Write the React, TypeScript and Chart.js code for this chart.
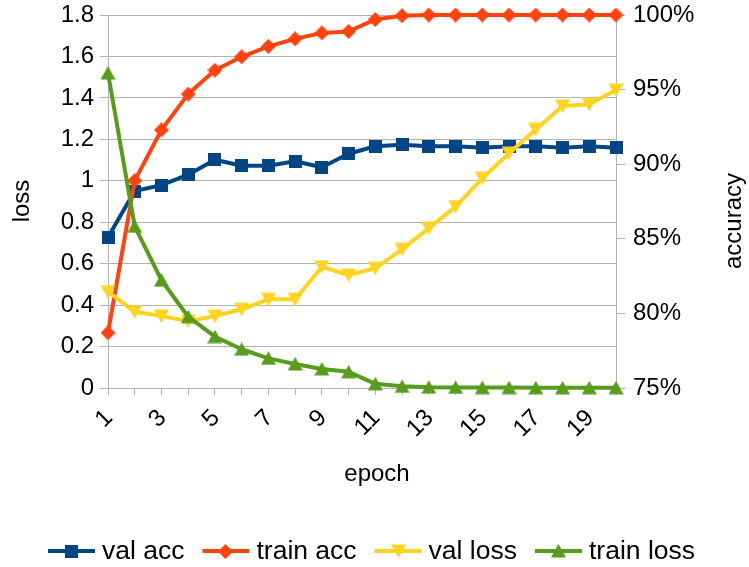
import React, { useEffect, useRef } from "react";
import { Chart, registerables } from "chart.js";

Chart.register(...registerables);

// Epoch categories along the x axis
const epochs = ["1", "2", "3", "4", "5", "6", "7", "8", "9", "10", "11", "12", "13", "14", "15", "16", "17", "18", "19", "20"];

// Accuracy series (percent, right axis)
const valAcc = [85.1, 88.2, 88.6, 89.3, 90.3, 89.9, 89.9, 90.2, 89.8, 90.7, 91.2, 91.3, 91.2, 91.2, 91.1, 91.2, 91.2, 91.1, 91.2, 91.1];
const trainAcc = [78.7, 88.9, 92.3, 94.7, 96.3, 97.2, 97.9, 98.4, 98.8, 98.9, 99.7, 99.95, 100, 100, 100, 100, 100, 100, 100, 100];

// Loss series (left axis)
const valLoss = [0.465, 0.368, 0.347, 0.323, 0.347, 0.38, 0.428, 0.428, 0.585, 0.545, 0.578, 0.669, 0.771, 0.875, 1.012, 1.133, 1.248, 1.361, 1.369, 1.438];
const trainLoss = [1.52, 0.78, 0.52, 0.344, 0.248, 0.187, 0.143, 0.116, 0.092, 0.078, 0.02, 0.008, 0.004, 0.003, 0.002, 0.002, 0.001, 0.001, 0.001, 0.001];

// Axis ranges
const lossMin = 0;
const lossMax = 1.8;
const lossStep = 0.2;
const accMin = 75;
const accMax = 100;
const accStep = 5;

const seriesNames = ["val acc", "train acc", "val loss", "train loss"];
const seriesColors = ["#004586", "#ff420e", "#ffd320", "#579d1c"];

const FONT = '"Liberation Sans", Arial, sans-serif';
const GRID = "#b3b3b3";

type Shape = "square" | "diamond" | "triDown" | "triUp";
const seriesShapes: Shape[] = ["square", "diamond", "triDown", "triUp"];

function makeMarker(shape: Shape, color: string): HTMLCanvasElement {
  const c = document.createElement("canvas");
  const ctx = c.getContext("2d")!;
  if (shape === "square") {
    c.width = 13; c.height = 13;
    ctx.fillStyle = color;
    ctx.fillRect(0, 0, 13, 13);
  } else if (shape === "diamond") {
    c.width = 15; c.height = 15;
    ctx.fillStyle = color;
    ctx.beginPath();
    ctx.moveTo(7.5, 0); ctx.lineTo(15, 7.5); ctx.lineTo(7.5, 15); ctx.lineTo(0, 7.5);
    ctx.closePath(); ctx.fill();
  } else if (shape === "triDown") {
    c.width = 15; c.height = 14;
    ctx.fillStyle = color;
    ctx.beginPath();
    ctx.moveTo(0, 0.5); ctx.lineTo(15, 0.5); ctx.lineTo(7.5, 14);
    ctx.closePath(); ctx.fill();
  } else {
    c.width = 15; c.height = 14;
    ctx.fillStyle = color;
    ctx.beginPath();
    ctx.moveTo(7.5, 0); ctx.lineTo(15, 13.5); ctx.lineTo(0, 13.5);
    ctx.closePath(); ctx.fill();
  }
  return c;
}

// Axis titles and the line-with-marker legend at the bottom
const decorPlugin = {
  id: "decor",
  afterDraw(chart: any) {
    const ctx = chart.ctx as CanvasRenderingContext2D;
    ctx.save();
    ctx.fillStyle = "#000";
    ctx.font = `24px ${FONT}`;
    ctx.textAlign = "center";
    ctx.textBaseline = "middle";

    ctx.save();
    ctx.translate(22, 201);
    ctx.rotate(-Math.PI / 2);
    ctx.fillText("loss", 0, 0);
    ctx.restore();

    ctx.save();
    ctx.translate(734, 221);
    ctx.rotate(-Math.PI / 2);
    ctx.fillText("accuracy", 0, 0);
    ctx.restore();

    ctx.fillText("epoch", 377, 474);

    // legend
    const lineW = 47;
    const gapText = 7;
    const gapItem = 18;
    ctx.font = `26.5px ${FONT}`;
    const widths = chart.data.datasets.map((d: any) => ctx.measureText(d.label).width);
    const total = widths.reduce((a: number, w: number) => a + lineW + gapText + w, 0) + gapItem * (widths.length - 1);
    let x = 371.5 - total / 2;
    const y = 551;
    chart.data.datasets.forEach((d: any, i: number) => {
      ctx.strokeStyle = d.borderColor;
      ctx.lineWidth = 4;
      ctx.beginPath();
      ctx.moveTo(x, y);
      ctx.lineTo(x + lineW, y);
      ctx.stroke();
      const m = d.pointStyle as HTMLCanvasElement;
      ctx.drawImage(m, Math.round(x + lineW / 2 - m.width / 2), Math.round(y - m.height / 2));
      ctx.fillStyle = "#000";
      ctx.textAlign = "left";
      ctx.fillText(d.label, x + lineW + gapText, y + 1);
      x += lineW + gapText + widths[i] + gapItem;
    });
    ctx.restore();
  },
};

function fixWidth(w: number) {
  return (s: any) => {
    s.width = w;
    s.paddingTop = 0;
    s.paddingBottom = 0;
  };
}

export default function App() {
  const ref = useRef<HTMLCanvasElement | null>(null);

  useEffect(() => {
    if (!ref.current) return;
    const series = [valAcc, trainAcc, valLoss, trainLoss];
    const axes = ["y1", "y1", "y", "y"];
    const datasets = series.map((data, i) => ({
      label: seriesNames[i],
      data,
      yAxisID: axes[i],
      borderColor: seriesColors[i],
      backgroundColor: seriesColors[i],
      borderWidth: 4,
      borderJoinStyle: "round" as const,
      pointStyle: makeMarker(seriesShapes[i], seriesColors[i]),
      pointRadius: 7,
      pointHoverRadius: 7,
      tension: 0,
      order: 3 - i,
      clip: false as any,
    }));

    const chart = new Chart(ref.current, {
      type: "line",
      data: { labels: epochs, datasets },
      options: {
        responsive: false,
        devicePixelRatio: 1,
        animation: false,
        layout: { padding: { top: 15, left: 0, right: 0, bottom: 0 } },
        plugins: { legend: { display: false }, tooltip: { enabled: false } },
        scales: {
          x: {
            type: "category",
            offset: false,
            grid: { drawOnChartArea: false, drawTicks: true, tickLength: 7, color: GRID },
            border: { display: true, color: GRID },
            ticks: {
              autoSkip: false,
              minRotation: 45,
              maxRotation: 45,
              padding: 9,
              labelOffset: 1,
              color: "#000",
              font: { family: FONT, size: 24 },
              callback: (_v: any, i: number) => (i % 2 === 0 ? epochs[i] : ""),
            },
            afterFit: (s: any) => {
              s.height = 179;
              s.paddingLeft = 0;
              s.paddingRight = 0;
            },
          },
          y: {
            position: "left",
            min: lossMin,
            max: lossMax,
            grid: { color: GRID, tickLength: 8 },
            border: { display: true, color: GRID },
            ticks: {
              stepSize: lossStep,
              padding: 6,
              color: "#000",
              font: { family: FONT, size: 24 },
              callback: (v: any) => String(Math.round(Number(v) * 10) / 10),
            },
            afterFit: fixWidth(108),
          },
          y1: {
            position: "right",
            min: accMin,
            max: accMax,
            grid: { drawOnChartArea: false, tickLength: 9, color: GRID },
            border: { display: true, color: GRID },
            ticks: {
              stepSize: accStep,
              padding: 8,
              color: "#000",
              font: { family: FONT, size: 24 },
              callback: (v: any) => `${v}%`,
            },
            afterFit: fixWidth(133),
          },
        },
      },
      plugins: [decorPlugin],
    });
    return () => chart.destroy();
  }, []);

  return (
    <div style={{ position: "absolute", left: 0, top: 0, width: 749, height: 567, background: "#fff" }}>
      <canvas ref={ref} width={749} height={567} style={{ display: "block" }} />
    </div>
  );
}
